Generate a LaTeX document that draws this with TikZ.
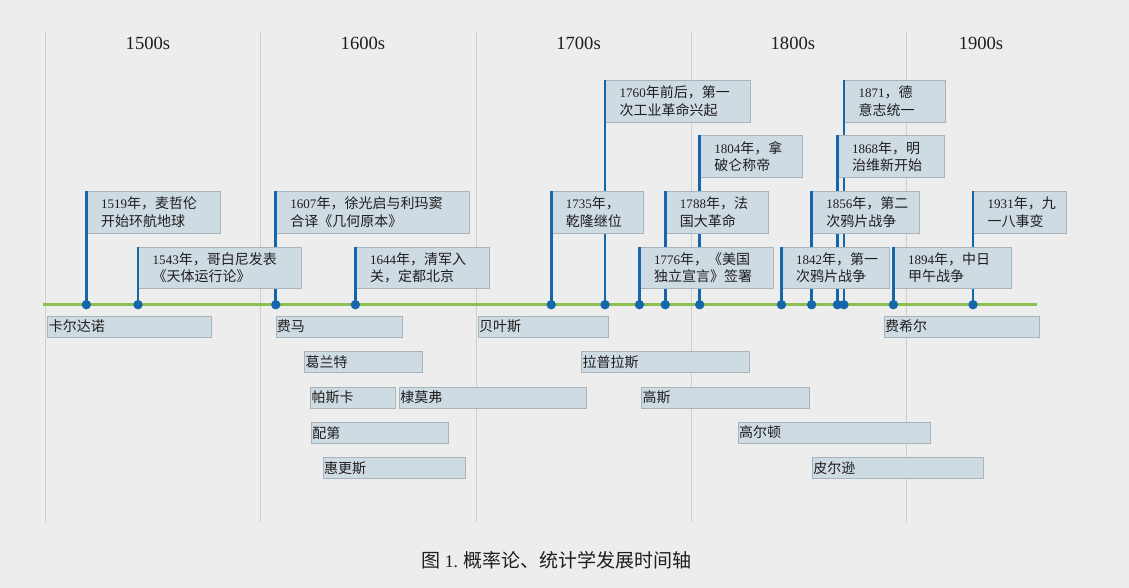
\documentclass[tikz,border=0pt]{standalone}
\usepackage{fontspec}
\setmainfont{Noto Sans CJK SC}
\newfontfamily\lat[Scale=0.93]{Liberation Serif}
\definecolor{bg}{HTML}{EDEDED}
\definecolor{boxfill}{HTML}{CFDBE2}
\definecolor{boxline}{HTML}{A9B4BA}
\definecolor{stemblue}{HTML}{1666AC}
\definecolor{axisgreen}{HTML}{8CC152}
\definecolor{gridgray}{HTML}{CFCFCF}
\definecolor{ink}{HTML}{1E1E1E}
\begin{document}
\begin{tikzpicture}[x=2.152pt,y=-1pt,
    evt/.style={draw=boxline,fill=boxfill,anchor=north west,inner xsep=14.5pt,inner ysep=0pt,
        minimum height=41.7pt,align=left,text=ink,font=\fontsize{14}{17.6}\selectfont},
    bar/.style={draw=boxline,fill=boxfill},
    who/.style={anchor=west,inner sep=1pt,text=ink,font=\fontsize{14}{16}\selectfont},
    stem/.style={draw=stemblue,line width=2.6pt},
    dec/.style={text=ink,font=\lat\fontsize{20}{22}\selectfont}]
    \path[use as bounding box,fill=bg](-45.5pt,0pt)rectangle(1083.5pt,-588pt);
    \foreach\x in{0,100,...,400}
        \draw[gridgray,line width=.8pt](\x,32)--(\x,522);
    \foreach\x/\t in{47.6/1500,147.5/1600,247.7/1700,347.3/1800,434.7/1900}
        \node[dec](c\t)at(\x,43){\t s};
    \draw[axisgreen,line width=2.5pt](-1.3,304.7)--(460.5,304.7);
    \foreach\a/\b/\h/\n[count=\i]in{1501/1576.8/316/卡尔达诺,1607/1665.6/316/费马,1700.9/1761.4/316/贝叶斯,
        1889.6/1961.9/316/费希尔,1620.3/1674.9/351.3/葛兰特,1749/1827.2/351.3/拉普拉斯,
        1623.1/1662.4/386.7/帕斯卡,1664.3/1751.4/386.7/棣莫弗,1776.9/1855.1/386.7/高斯,
        1623.4/1687.3/422/配第,1821.8/1911.2/422/高尔顿,1628.9/1694.9/457.3/惠更斯,1856.3/1935.9/457.3/皮尔逊}{
        \draw[bar]({\a-1500},\h)rectangle({\b-1500},\h+21.3);
        \node[who](p\i)at({\a-1500},\h+10.65){\n};
    }
    \foreach\y/\h/\w/\s in{
        1760/80/116/{{\lat 1760}年前后，第一\\次工业革命兴起},
        1871/80/72/{{\lat 1871}，德\\意志统一},
        1804/135.5/73/{{\lat 1804}年，拿\\破仑称帝},
        1868/135.5/78/{{\lat 1868}年，明\\治维新开始},
        1519/191/105/{{\lat 1519}年，麦哲伦\\开始环航地球},
        1607/191/164.5/{{\lat 1607}年，徐光启与利玛窦\\合译《几何原本》},
        1735/191/63/{{\lat 1735}年，\\乾隆继位},
        1788/191/73.5/{{\lat 1788}年，法\\国大革命},
        1856/191/78/{{\lat 1856}年，第二\\次鸦片战争},
        1931/191/63.5/{{\lat 1931}年，九\\一八事变},
        1543/246.7/134/{{\lat 1543}年，哥白尼发表\\《天体运行论》},
        1644/246.7/105/{{\lat 1644}年，清军入\\关，定都北京},
        1776/246.7/105/{{\lat 1776}年，《美国\\独立宣言》签署},
        1842/246.7/78.5/{{\lat 1842}年，第一\\次鸦片战争},
        1894/246.7/88.5/{{\lat 1894}年，中日\\甲午战争}}{
        \coordinate(d\y)at({\y-1500},304.7);
        \node[evt,text width=\w pt](e\y)at({\y-1500},\h){\s};
        \draw[stem](e\y.north west)--(d\y);
    }
    \foreach\y in{1519,1543,1607,1644,1735,1760,1776,1788,1804,1842,1856,1868,1871,1894,1931}
        \fill[stemblue](d\y)circle[radius=4.7pt];
    \node[text=ink,font=\fontsize{19}{22}\selectfont](cap)at(237.5,560){图 {\lat 1.} 概率论、统计学发展时间轴};
\end{tikzpicture}
\end{document}
